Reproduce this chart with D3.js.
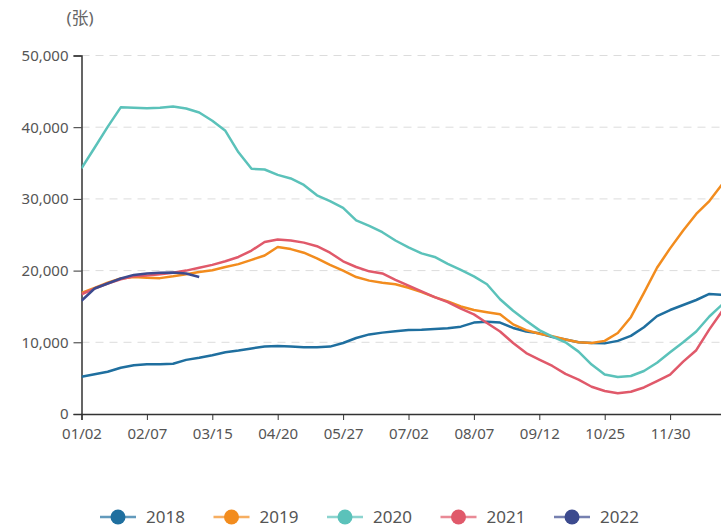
<!DOCTYPE html>
<html>
<head>
<meta charset="utf-8">
<script src="https://cdn.jsdelivr.net/npm/d3@7"></script>
<style>
  body { margin: 0; background: #fff; }
  svg { display: block; font-family: "Noto Sans", "Noto Sans CJK SC", sans-serif; }
</style>
</head>
<body>
<svg id="chart" width="721" height="530"></svg>
<script>
// trading-day index of each tick label (one label every 25 days)
const tickLabels = ['01/02', '02/07', '03/15', '04/20', '05/27', '07/02', '08/07', '09/12', '10/25', '11/30'];
const tickStep = 25;
// values are sampled every 5 trading days
const sampleStep = 5;

const years = ['2018', '2019', '2020', '2021', '2022'];
const colors = ['#1f6f9f', '#f28c1e', '#5bc2ba', '#e0596a', '#3c4a8e'];

const values2018 = [5200, 5550, 5900, 6450, 6800, 6930, 6950, 7000, 7550, 7850,
  8200, 8600, 8850, 9150, 9400, 9500, 9400, 9300, 9300, 9400,
  9900, 10600, 11100, 11350, 11550, 11700, 11750, 11850, 11950, 12180,
  12750, 12850, 12750, 12000, 11500, 11250, 10750, 10400, 10000, 9900,
  9850, 10200, 10900, 12100, 13650, 14500, 15200, 15900, 16750, 16600];
const values2019 = [16900, 17600, 18300, 18900, 19100, 19000, 18950, 19200, 19500, 19800,
  20050, 20500, 20900, 21500, 22100, 23300, 23000, 22500, 21700, 20800,
  20000, 19100, 18600, 18300, 18100, 17600, 17000, 16300, 15700, 15000,
  14500, 14200, 13900, 12500, 11700, 11200, 10850, 10400, 10000, 9900,
  10200, 11300, 13500, 16900, 20400, 23100, 25600, 27900, 29700, 32100];
const values2020 = [34270, 37130, 40040, 42770, 42700, 42650, 42700, 42900, 42600, 42050,
  40900, 39500, 36500, 34200, 34100, 33350, 32850, 31950, 30500, 29700,
  28750, 27000, 26250, 25350, 24200, 23250, 22400, 21900, 20950, 20100,
  19200, 18100, 16000, 14400, 13000, 11700, 10800, 10000, 8700, 6900,
  5500, 5150, 5300, 6000, 7150, 8600, 10000, 11500, 13600, 15300];
const values2021 = [16700, 17500, 18200, 18800, 19200, 19300, 19500, 19700, 20000, 20400,
  20800, 21300, 21900, 22800, 24000, 24350, 24200, 23900, 23400, 22500,
  21300, 20500, 19900, 19600, 18700, 17900, 17100, 16300, 15600, 14700,
  13900, 12700, 11500, 9900, 8500, 7600, 6700, 5600, 4800, 3800,
  3200, 2900, 3100, 3700, 4600, 5500, 7300, 8900, 11800, 14400];
const values2022 = [15800, 17500, 18200, 18900, 19400, 19600, 19700, 19750, 19600, 19100];

const seriesValues = [values2018, values2019, values2020, values2021, values2022];
const yTicks = [0, 10000, 20000, 30000, 40000, 50000];

const margin = { top: 55.5, right: 0, bottom: 116, left: 81.5 };
const width = 721, height = 530;

const svg = d3.select('#chart');

const x = d3.scaleLinear()
  .domain([0, 245])
  .range([margin.left, margin.left + 245 * 2.616]);

const y = d3.scaleLinear()
  .domain([0, 50000])
  .range([height - margin.bottom, margin.top]);

// unit label
svg.append('text')
  .attr('x', 80)
  .attr('y', 24)
  .attr('text-anchor', 'middle')
  .attr('fill', '#666')
  .attr('font-size', 17)
  .text('(张)');

// dashed grid lines
svg.append('g')
  .selectAll('line')
  .data(yTicks.slice(1))
  .join('line')
  .attr('x1', margin.left)
  .attr('x2', width)
  .attr('y1', d => y(d))
  .attr('y2', d => y(d))
  .attr('stroke', '#dcdcdc')
  .attr('stroke-dasharray', '8,6');

// y axis
const yAxis = svg.append('g')
  .attr('transform', `translate(${margin.left},0)`)
  .call(d3.axisLeft(y).tickValues(yTicks).tickFormat(d3.format(',')).tickSize(8).tickPadding(5));
yAxis.select('.domain').attr('stroke', '#333').attr('stroke-width', 1.5);
yAxis.selectAll('.tick line').attr('stroke', '#333');
yAxis.selectAll('.tick text').attr('fill', '#555').attr('font-size', 15)
  .attr('font-family', '"Noto Sans", sans-serif');

// x axis
const xAxis = svg.append('g')
  .attr('transform', `translate(0,${y(0)})`)
  .call(d3.axisBottom(x)
    .tickValues(tickLabels.map((d, i) => i * tickStep))
    .tickFormat((d, i) => tickLabels[i])
    .tickSizeOuter(0)
    .tickSize(6)
    .tickPadding(8));
xAxis.select('.domain').attr('stroke', '#333').attr('stroke-width', 1.5);
xAxis.selectAll('.tick line').attr('stroke', '#333');
xAxis.selectAll('.tick text').attr('fill', '#555').attr('font-size', 15)
  .attr('font-family', '"Noto Sans", sans-serif');

// lines
const line = d3.line()
  .x((d, i) => x(i * sampleStep))
  .y(d => y(d));

svg.append('defs').append('clipPath')
  .attr('id', 'plot-clip')
  .append('rect')
  .attr('x', margin.left)
  .attr('y', 0)
  .attr('width', width - margin.left)
  .attr('height', y(0));

svg.append('g')
  .attr('clip-path', 'url(#plot-clip)')
  .selectAll('path')
  .data(seriesValues)
  .join('path')
  .attr('d', d => line(d))
  .attr('fill', 'none')
  .attr('stroke', (d, i) => colors[i])
  .attr('stroke-width', 2.5)
  .attr('stroke-linejoin', 'round');

// legend
const legend = svg.append('g')
  .attr('transform', 'translate(118,517)');

const item = legend.selectAll('g')
  .data(years)
  .join('g')
  .attr('transform', (d, i) => `translate(${i * 113.5},0)`);

item.append('line')
  .attr('x1', -18)
  .attr('x2', 18)
  .attr('stroke', (d, i) => colors[i])
  .attr('stroke-opacity', 0.7)
  .attr('stroke-width', 2.5);

item.append('circle')
  .attr('r', 7.5)
  .attr('fill', (d, i) => colors[i]);

item.append('text')
  .attr('x', 28)
  .attr('dy', '0.35em')
  .attr('fill', '#555')
  .attr('font-size', 17)
  .text(d => d);
</script>
</body>
</html>
